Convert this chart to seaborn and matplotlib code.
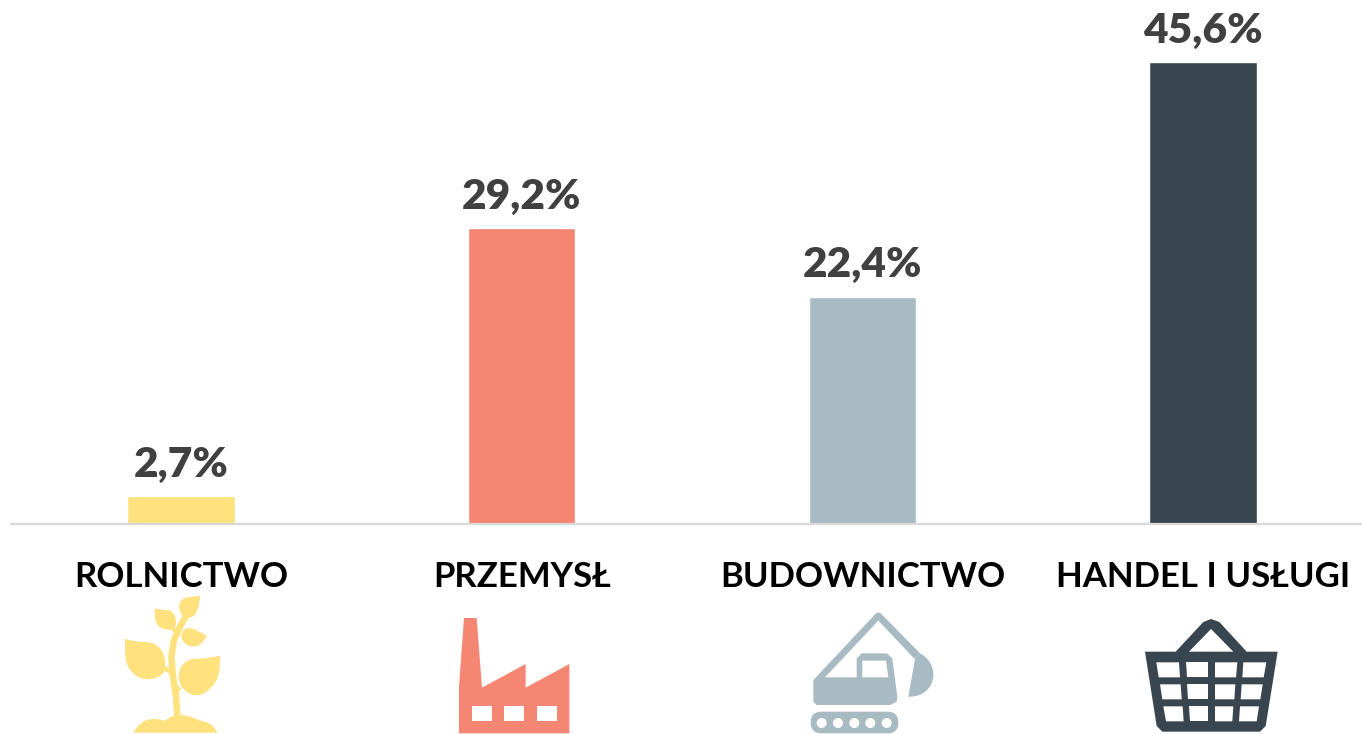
import matplotlib
matplotlib.use('Agg')
import matplotlib.pyplot as plt
from matplotlib.patches import Polygon, Circle, FancyBboxPatch, PathPatch
from matplotlib.path import Path
import pandas as pd
import seaborn as sns

categories = ['ROLNICTWO', 'PRZEMYSŁ', 'BUDOWNICTWO', 'HANDEL I USŁUGI']
shares = [2.7, 29.2, 22.4, 45.6]
value_labels = ['2,7%', '29,2%', '22,4%', '45,6%']
colors = ['#FFE17D', '#F58672', '#A8BBC3', '#39454F']

sns.set_theme(style='white')
plt.rcParams['font.family'] = ['Lato', 'DejaVu Sans']

df = pd.DataFrame({'sector': categories, 'share': shares})

W, H = 1362, 734
fig = plt.figure(figsize=(W / 100, H / 100), dpi=100)
ax = fig.add_axes([10.7 / W, (H - 523.5) / H, 1362.7 / W, 523.5 / H])

sns.barplot(data=df, x='sector', y='share', hue='sector', palette=colors,
            order=categories, hue_order=categories, width=0.3145, legend=False,
            saturation=1, ax=ax)
ax.set_xlim(-0.5, 3.5)
ax.set_ylim(0, 523.5 / 10.12)
ax.set_xlabel('')
ax.set_ylabel('')
ax.set_yticks([])
ax.tick_params(axis='x', length=0, pad=27, labelsize=25, labelcolor='black')
for t in ax.get_xticklabels():
    t.set_fontweight('bold')
sns.despine(ax=ax, left=True)
ax.spines['bottom'].set_color('#D9D9D9')
ax.spines['bottom'].set_linewidth(1.6)

for cont, lab in zip(ax.containers, value_labels):
    ax.bar_label(cont, labels=[lab], padding=9, fontsize=30.5, fontweight='heavy', color='#404040')

# warstwa na ikony, wspolrzedne w pikselach obrazka
ic = fig.add_axes([0, 0, 1, 1], facecolor='none')
ic.set_xlim(0, W)
ic.set_ylim(H, 0)
ic.axis('off')


def z1(p):
    return (100 + p[0] / 3, 590 + p[1] / 3)


def z2(p):
    return (780 + p[0] / 3, 600 + p[1] / 3)


def poly(pts, conv, color):
    ic.add_patch(Polygon([conv(p) for p in pts], closed=True, fc=color, ec='none'))


def curve(pts, conv, color):
    # start + trojki punktow beziera
    codes = [Path.MOVETO] + [Path.CURVE4] * (len(pts) - 1)
    ic.add_patch(PathPatch(Path([conv(p) for p in pts], codes), fc=color, ec='none'))


# roslina
c = colors[0]
curve([(75, 147), (100, 152), (115, 157), (135, 156), (175, 156), (205, 190), (193, 245),
       (175, 272), (125, 276), (100, 250), (72, 225), (75, 190), (75, 147)], z1, c)
curve([(360, 197), (330, 203), (310, 207), (290, 206), (245, 205), (225, 250), (243, 287),
       (265, 322), (305, 325), (330, 295), (360, 270), (360, 235), (360, 197)], z1, c)
curve([(320, 137), (295, 125), (280, 112), (262, 115), (240, 118), (240, 150), (255, 160),
       (280, 178), (305, 170), (320, 137)], z1, c)
curve([(165, 55), (185, 60), (195, 60), (205, 60), (225, 65), (235, 95), (222, 118),
       (175, 125), (160, 100), (165, 55)], z1, c)
curve([(300, 17), (285, 20), (275, 20), (262, 22), (232, 28), (232, 60), (250, 80),
       (290, 95), (297, 55), (300, 17)], z1, c)
xs, ys = zip(*[z1(p) for p in [(232, 378), (228, 320), (218, 250), (214, 200), (222, 150), (240, 110), (262, 70)]])
ic.plot(xs, ys, color=c, lw=4.6, solid_capstyle='butt')
for a, b in [((190, 232), (218, 250)), ((240, 292), (225, 305)), ((240, 130), (225, 135)), ((215, 105), (225, 125))]:
    xs, ys = zip(*[z1(a), z1(b)])
    ic.plot(xs, ys, color=c, lw=3, solid_capstyle='butt')
curve([(100, 428), (120, 392), (150, 378), (195, 393), (210, 378), (240, 362), (300, 392),
       (330, 396), (345, 412), (352, 428), (300, 428), (150, 428), (100, 428)], z1, c)

# fabryka
c = colors[1]
poly([(1077, 430), (1077, 290), (1092, 84), (1130, 84), (1146, 293), (1277, 222), (1277, 293),
      (1408, 222), (1408, 430)], z1, c)
for x0 in [1116, 1213, 1312]:
    poly([(x0, 348), (x0 + 59, 348), (x0 + 59, 394), (x0, 394)], z1, 'white')

# koparka
c = colors[2]
poly([(100, 240), (290, 38), (300, 38), (420, 160), (405, 178), (295, 62), (135, 232), (230, 232),
      (230, 175), (245, 160), (320, 160), (337, 175), (352, 290), (350, 305), (330, 315),
      (110, 315), (100, 305)], z2, c)
poly([(247, 182), (318, 182), (325, 232), (247, 232)], z2, 'white')
curve([(405, 178), (410, 172), (415, 166), (420, 160), (445, 172), (462, 200), (460, 228),
       (458, 262), (430, 292), (385, 290), (392, 250), (398, 215), (405, 178)], z2, c)
x0, y0 = z2((92, 335))
ic.add_patch(FancyBboxPatch((x0 + 10.5, y0 + 10.5), 263 / 3 - 21, 65 / 3 - 21,
                            boxstyle='round,pad=10.5,rounding_size=10.5', fc=c, ec='none'))
for cx in [125, 174, 223, 271, 320]:
    ic.add_patch(Circle(z2((cx, 369)), 5, fc='white', ec='none'))

# koszyk
c = colors[3]
poly([(1095, 155), (1187, 155), (1270, 66), (1293, 57), (1318, 66), (1400, 155), (1493, 155),
      (1457, 378), (1440, 395), (1147, 395), (1130, 378)], z2, c)
poly([(1227, 155), (1293, 87), (1360, 155)], z2, 'white')
holes = [
    [(1129, 187), (1197, 187), (1200, 232), (1136, 232)],
    [(1217, 187), (1284, 187), (1284, 232), (1220, 232)],
    [(1305, 187), (1372, 187), (1368, 232), (1305, 232)],
    [(1390, 187), (1459, 187), (1451, 232), (1387, 232)],
    [(1140, 253), (1202, 253), (1205, 298), (1147, 298)],
    [(1222, 253), (1284, 253), (1284, 298), (1225, 298)],
    [(1305, 253), (1366, 253), (1363, 298), (1305, 298)],
    [(1385, 253), (1448, 253), (1441, 298), (1382, 298)],
    [(1150, 319), (1208, 319), (1211, 364), (1158, 364)],
    [(1227, 319), (1284, 319), (1284, 364), (1230, 364)],
    [(1305, 319), (1360, 319), (1357, 364), (1305, 364)],
    [(1380, 319), (1437, 319), (1430, 364), (1377, 364)],
]
for h in holes:
    poly(h, z2, 'white')

fig.savefig('out.png', dpi=100, facecolor='white')
